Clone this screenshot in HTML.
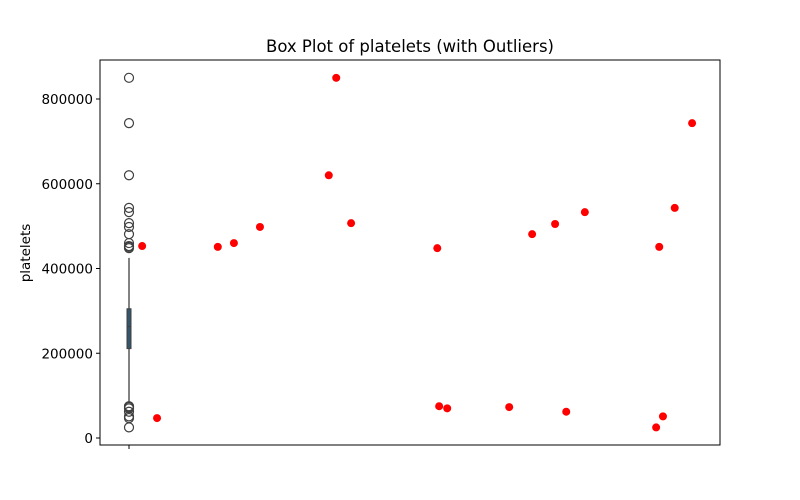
<!DOCTYPE html>
<html><head><meta charset="utf-8"><style>
body{margin:0;background:#fff;}
svg{display:block;font-family:"DejaVu Sans","Liberation Sans",sans-serif;}
</style></head><body>
<svg id="chart" width="800" height="500"></svg>
<script>
const yTicks=[0,200000,400000,600000,800000];
const boxStats=[82600,211000,263000,305000,425000]; // lower whisker, q1, median, q3, upper whisker
const outlierValues=[850000,743000,620000,543000,533000,507000,498000,481000,460000,453000,451000,448000,75000,73000,70000,62000,51000,47000,25000];
const redX=[6.8,9.2,19.0,21.6,25.8,36.9,38.1,40.5,54.4,54.7,56.0,66.0,69.7,73.4,75.2,78.2,89.7,90.2,90.8,92.7,95.5];
const redY=[453000,47000,451000,460000,498000,620000,850000,507000,448000,75000,70000,73000,481000,505000,62000,533000,25000,451000,51000,543000,743000];

const NS="http://www.w3.org/2000/svg";
const svg=document.getElementById('chart');
const L=100,R=720,T=60,B=445;
const y=v=>438-v/800000*339;
const x=v=>L+v/100*(R-L);
const bx=129;
function mk(tag,attrs,parent){const e=document.createElementNS(NS,tag);for(const k in attrs)e.setAttribute(k,attrs[k]);(parent||svg).appendChild(e);return e;}

const title=mk('text',{x:410,y:52,'text-anchor':'middle','font-size':16.5,fill:'#000'});
title.textContent='Box Plot of platelets (with Outliers)';



const yl=mk('text',{x:0,y:0,transform:'translate(30,253) rotate(-90)','text-anchor':'middle','font-size':13.5,fill:'#000'});
yl.textContent='platelets';



yTicks.forEach(t=>{
  const g=mk('g',{});
  
  
  mk('line',{x1:L-4,x2:L,y1:y(t),y2:y(t),stroke:'#000','stroke-width':1},g);
  const tx=mk('text',{x:L-7,y:y(t)+5,'text-anchor':'end','font-size':13.5,fill:'#000'},g);
  tx.textContent=String(t);
});
const xt=mk('line',{x1:bx,x2:bx,y1:B,y2:B+4,stroke:'#000'});



const box=mk('g',{});


mk('line',{x1:bx,x2:bx,y1:y(boxStats[0]),y2:y(boxStats[1]),stroke:'#3f3f3f','stroke-width':1.3},box);
mk('line',{x1:bx,x2:bx,y1:y(boxStats[3]),y2:y(boxStats[4]),stroke:'#3f3f3f','stroke-width':1.3},box);
mk('rect',{x:bx-2,y:y(boxStats[3]),width:4,height:y(boxStats[1])-y(boxStats[3]),fill:'#34566b',stroke:'#3f3f3f','stroke-width':1},box);
mk('line',{x1:bx-2,x2:bx+2,y1:y(boxStats[2]),y2:y(boxStats[2]),stroke:'#3f3f3f','stroke-width':1},box);

outlierValues.forEach(v=>{
  const c=mk('circle',{cx:bx,cy:y(v),r:4.5,fill:'none',stroke:'#3f3f3f','stroke-width':1.2});
  
  
});
redX.forEach((xv,i)=>{
  const c=mk('circle',{cx:x(xv),cy:y(redY[i]),r:4,fill:'#ff0000'});
  
  
});

const frame=mk('rect',{x:L,y:T,width:R-L,height:B-T,fill:'none',stroke:'#000','stroke-width':1});


</script>
</body></html>
